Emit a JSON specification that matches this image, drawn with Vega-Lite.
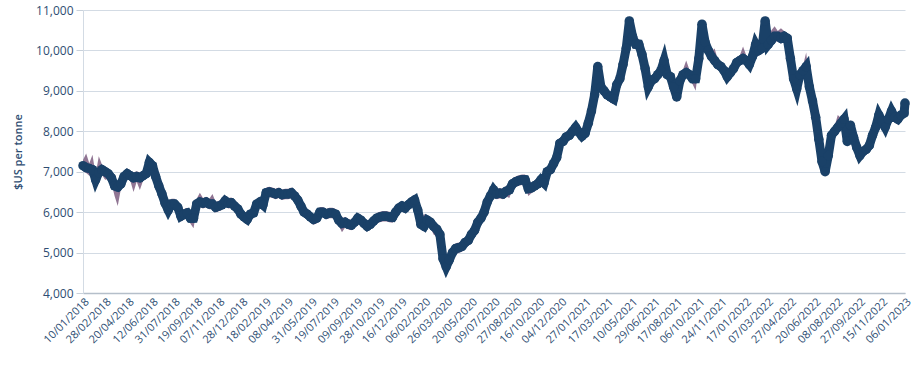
{
  "$schema": "https://vega.github.io/schema/vega-lite/v6.json",
  "width": 822,
  "height": 283,
  "autosize": {"type": "none"},
  "padding": {"left": 83, "top": 10, "right": 11, "bottom": 73},
  "background": "white",
  "config": {
    "view": {"stroke": null},
    "font": "Open Sans"
  },
  "data": {
    "values": [
      {"d":"2018-01-10","v":7150,"h":7290,"l":7020},
      {"d":"2018-01-17","v":7100,"h":7450,"l":6970},
      {"d":"2018-01-24","v":7080,"h":7210,"l":6900},
      {"d":"2018-01-31","v":7050,"h":7420,"l":6920},
      {"d":"2018-02-07","v":6800,"h":6930,"l":6670},
      {"d":"2018-02-14","v":6980,"h":7380,"l":6850},
      {"d":"2018-02-21","v":7050,"h":7180,"l":6920},
      {"d":"2018-02-28","v":7000,"h":7130,"l":6800},
      {"d":"2018-03-07","v":6950,"h":7080,"l":6820},
      {"d":"2018-03-14","v":6850,"h":6980,"l":6720},
      {"d":"2018-03-21","v":6650,"h":6780,"l":6400},
      {"d":"2018-03-28","v":6620,"h":6750,"l":6150},
      {"d":"2018-04-04","v":6700,"h":6830,"l":6570},
      {"d":"2018-04-11","v":6880,"h":7010,"l":6750},
      {"d":"2018-04-18","v":6950,"h":7080,"l":6820},
      {"d":"2018-04-25","v":6900,"h":7030,"l":6770},
      {"d":"2018-05-02","v":6850,"h":6980,"l":6500},
      {"d":"2018-05-09","v":6880,"h":7010,"l":6750},
      {"d":"2018-05-16","v":6850,"h":6980,"l":6550},
      {"d":"2018-05-23","v":6900,"h":7030,"l":6770},
      {"d":"2018-05-30","v":6950,"h":7250,"l":6820},
      {"d":"2018-06-06","v":7230,"h":7360,"l":7100},
      {"d":"2018-06-13","v":7150,"h":7280,"l":7020},
      {"d":"2018-06-20","v":6880,"h":7010,"l":6750},
      {"d":"2018-06-27","v":6650,"h":6780,"l":6520},
      {"d":"2018-07-04","v":6450,"h":6580,"l":6320},
      {"d":"2018-07-11","v":6220,"h":6350,"l":6090},
      {"d":"2018-07-18","v":6050,"h":6180,"l":5920},
      {"d":"2018-07-25","v":6200,"h":6330,"l":6070},
      {"d":"2018-08-01","v":6200,"h":6330,"l":6070},
      {"d":"2018-08-08","v":6120,"h":6250,"l":5990},
      {"d":"2018-08-15","v":5900,"h":6030,"l":5770},
      {"d":"2018-08-22","v":5950,"h":6080,"l":5820},
      {"d":"2018-08-29","v":5980,"h":6110,"l":5850},
      {"d":"2018-09-05","v":5850,"h":5980,"l":5720},
      {"d":"2018-09-12","v":5850,"h":5980,"l":5600},
      {"d":"2018-09-19","v":6200,"h":6330,"l":6070},
      {"d":"2018-09-26","v":6250,"h":6480,"l":6120},
      {"d":"2018-10-03","v":6220,"h":6350,"l":6090},
      {"d":"2018-10-10","v":6250,"h":6380,"l":6120},
      {"d":"2018-10-17","v":6200,"h":6330,"l":6070},
      {"d":"2018-10-24","v":6200,"h":6450,"l":6070},
      {"d":"2018-10-31","v":6120,"h":6250,"l":5990},
      {"d":"2018-11-07","v":6150,"h":6280,"l":6020},
      {"d":"2018-11-14","v":6180,"h":6310,"l":6050},
      {"d":"2018-11-21","v":6280,"h":6410,"l":6150},
      {"d":"2018-11-28","v":6220,"h":6350,"l":6090},
      {"d":"2018-12-05","v":6230,"h":6360,"l":6100},
      {"d":"2018-12-12","v":6150,"h":6280,"l":6020},
      {"d":"2018-12-19","v":6080,"h":6210,"l":5950},
      {"d":"2018-12-26","v":5950,"h":6080,"l":5820},
      {"d":"2019-01-02","v":5880,"h":6010,"l":5750},
      {"d":"2019-01-09","v":5820,"h":5950,"l":5690},
      {"d":"2019-01-16","v":5950,"h":6080,"l":5820},
      {"d":"2019-01-23","v":5980,"h":6110,"l":5850},
      {"d":"2019-01-30","v":6200,"h":6330,"l":6070},
      {"d":"2019-02-06","v":6250,"h":6380,"l":6120},
      {"d":"2019-02-13","v":6180,"h":6310,"l":6050},
      {"d":"2019-02-20","v":6480,"h":6610,"l":6350},
      {"d":"2019-02-27","v":6500,"h":6630,"l":6370},
      {"d":"2019-03-06","v":6480,"h":6610,"l":6350},
      {"d":"2019-03-13","v":6450,"h":6580,"l":6320},
      {"d":"2019-03-20","v":6480,"h":6610,"l":6350},
      {"d":"2019-03-27","v":6430,"h":6560,"l":6300},
      {"d":"2019-04-03","v":6450,"h":6580,"l":6320},
      {"d":"2019-04-10","v":6450,"h":6580,"l":6320},
      {"d":"2019-04-17","v":6480,"h":6610,"l":6350},
      {"d":"2019-04-24","v":6400,"h":6530,"l":6270},
      {"d":"2019-05-01","v":6300,"h":6430,"l":6170},
      {"d":"2019-05-08","v":6150,"h":6280,"l":6020},
      {"d":"2019-05-15","v":6000,"h":6130,"l":5870},
      {"d":"2019-05-22","v":5950,"h":6080,"l":5820},
      {"d":"2019-05-29","v":5880,"h":6010,"l":5750},
      {"d":"2019-06-05","v":5820,"h":5950,"l":5690},
      {"d":"2019-06-12","v":5850,"h":5980,"l":5720},
      {"d":"2019-06-19","v":6000,"h":6130,"l":5870},
      {"d":"2019-06-26","v":6000,"h":6130,"l":5870},
      {"d":"2019-07-03","v":5950,"h":6080,"l":5820},
      {"d":"2019-07-10","v":5980,"h":6110,"l":5850},
      {"d":"2019-07-17","v":5980,"h":6110,"l":5850},
      {"d":"2019-07-24","v":5950,"h":6080,"l":5820},
      {"d":"2019-07-31","v":5800,"h":5930,"l":5670},
      {"d":"2019-08-07","v":5720,"h":5850,"l":5500},
      {"d":"2019-08-14","v":5750,"h":5880,"l":5620},
      {"d":"2019-08-21","v":5700,"h":5830,"l":5570},
      {"d":"2019-08-28","v":5680,"h":5810,"l":5550},
      {"d":"2019-09-04","v":5750,"h":5880,"l":5620},
      {"d":"2019-09-11","v":5850,"h":5980,"l":5720},
      {"d":"2019-09-18","v":5800,"h":5930,"l":5670},
      {"d":"2019-09-25","v":5720,"h":5850,"l":5590},
      {"d":"2019-10-02","v":5650,"h":5780,"l":5520},
      {"d":"2019-10-09","v":5700,"h":5830,"l":5570},
      {"d":"2019-10-16","v":5780,"h":5910,"l":5650},
      {"d":"2019-10-23","v":5850,"h":5980,"l":5720},
      {"d":"2019-10-30","v":5880,"h":6010,"l":5750},
      {"d":"2019-11-06","v":5900,"h":6030,"l":5770},
      {"d":"2019-11-13","v":5900,"h":6030,"l":5770},
      {"d":"2019-11-20","v":5880,"h":6010,"l":5750},
      {"d":"2019-11-27","v":5870,"h":6000,"l":5740},
      {"d":"2019-12-04","v":6000,"h":6130,"l":5870},
      {"d":"2019-12-11","v":6100,"h":6230,"l":5970},
      {"d":"2019-12-18","v":6150,"h":6280,"l":6020},
      {"d":"2019-12-25","v":6100,"h":6230,"l":5970},
      {"d":"2020-01-01","v":6180,"h":6310,"l":6050},
      {"d":"2020-01-08","v":6250,"h":6380,"l":6120},
      {"d":"2020-01-15","v":6300,"h":6430,"l":6170},
      {"d":"2020-01-22","v":6050,"h":6180,"l":5920},
      {"d":"2020-01-29","v":5700,"h":5830,"l":5570},
      {"d":"2020-02-05","v":5650,"h":5950,"l":5520},
      {"d":"2020-02-12","v":5800,"h":5930,"l":5670},
      {"d":"2020-02-19","v":5750,"h":5880,"l":5620},
      {"d":"2020-02-26","v":5650,"h":5780,"l":5450},
      {"d":"2020-03-04","v":5580,"h":5710,"l":5400},
      {"d":"2020-03-11","v":5450,"h":5580,"l":5320},
      {"d":"2020-03-18","v":4850,"h":4980,"l":4720},
      {"d":"2020-03-25","v":4650,"h":4780,"l":4520},
      {"d":"2020-04-01","v":4820,"h":4950,"l":4690},
      {"d":"2020-04-08","v":5000,"h":5130,"l":4870},
      {"d":"2020-04-15","v":5100,"h":5230,"l":4970},
      {"d":"2020-04-22","v":5120,"h":5250,"l":4990},
      {"d":"2020-04-29","v":5150,"h":5280,"l":5020},
      {"d":"2020-05-06","v":5250,"h":5380,"l":5120},
      {"d":"2020-05-13","v":5300,"h":5430,"l":5170},
      {"d":"2020-05-20","v":5450,"h":5580,"l":5320},
      {"d":"2020-05-27","v":5550,"h":5680,"l":5420},
      {"d":"2020-06-03","v":5750,"h":5880,"l":5620},
      {"d":"2020-06-10","v":5850,"h":5980,"l":5720},
      {"d":"2020-06-17","v":6000,"h":6130,"l":5870},
      {"d":"2020-06-24","v":6250,"h":6380,"l":6120},
      {"d":"2020-07-01","v":6400,"h":6530,"l":6270},
      {"d":"2020-07-08","v":6550,"h":6680,"l":6420},
      {"d":"2020-07-15","v":6450,"h":6580,"l":6320},
      {"d":"2020-07-22","v":6470,"h":6600,"l":6340},
      {"d":"2020-07-29","v":6450,"h":6580,"l":6320},
      {"d":"2020-08-05","v":6520,"h":6650,"l":6390},
      {"d":"2020-08-12","v":6550,"h":6680,"l":6350},
      {"d":"2020-08-19","v":6700,"h":6830,"l":6570},
      {"d":"2020-08-26","v":6750,"h":6880,"l":6620},
      {"d":"2020-09-02","v":6780,"h":6910,"l":6650},
      {"d":"2020-09-09","v":6800,"h":6930,"l":6670},
      {"d":"2020-09-16","v":6800,"h":6930,"l":6670},
      {"d":"2020-09-23","v":6580,"h":6710,"l":6400},
      {"d":"2020-09-30","v":6600,"h":6730,"l":6470},
      {"d":"2020-10-07","v":6650,"h":6780,"l":6520},
      {"d":"2020-10-14","v":6700,"h":6830,"l":6570},
      {"d":"2020-10-21","v":6800,"h":6930,"l":6670},
      {"d":"2020-10-28","v":6720,"h":6850,"l":6590},
      {"d":"2020-11-04","v":7000,"h":7130,"l":6870},
      {"d":"2020-11-11","v":7050,"h":7180,"l":6920},
      {"d":"2020-11-18","v":7200,"h":7330,"l":7070},
      {"d":"2020-11-25","v":7350,"h":7480,"l":7220},
      {"d":"2020-12-02","v":7700,"h":7830,"l":7570},
      {"d":"2020-12-09","v":7750,"h":7880,"l":7620},
      {"d":"2020-12-16","v":7860,"h":7990,"l":7730},
      {"d":"2020-12-23","v":7900,"h":8030,"l":7770},
      {"d":"2020-12-30","v":8000,"h":8130,"l":7870},
      {"d":"2021-01-06","v":8100,"h":8230,"l":7970},
      {"d":"2021-01-13","v":7980,"h":8110,"l":7850},
      {"d":"2021-01-20","v":7880,"h":8010,"l":7750},
      {"d":"2021-01-27","v":7950,"h":8080,"l":7820},
      {"d":"2021-02-03","v":8200,"h":8330,"l":8070},
      {"d":"2021-02-10","v":8500,"h":8630,"l":8370},
      {"d":"2021-02-17","v":8900,"h":9030,"l":8770},
      {"d":"2021-02-24","v":9600,"h":9730,"l":9470},
      {"d":"2021-03-03","v":9100,"h":9230,"l":8970},
      {"d":"2021-03-10","v":9000,"h":9130,"l":8870},
      {"d":"2021-03-17","v":8900,"h":9030,"l":8770},
      {"d":"2021-03-24","v":8850,"h":8980,"l":8720},
      {"d":"2021-03-31","v":8800,"h":8930,"l":8670},
      {"d":"2021-04-07","v":9150,"h":9280,"l":9020},
      {"d":"2021-04-14","v":9300,"h":9430,"l":9170},
      {"d":"2021-04-21","v":9650,"h":9780,"l":9520},
      {"d":"2021-04-28","v":10050,"h":10180,"l":9920},
      {"d":"2021-05-05","v":10730,"h":10860,"l":10600},
      {"d":"2021-05-12","v":10350,"h":10480,"l":10220},
      {"d":"2021-05-19","v":10150,"h":10280,"l":10020},
      {"d":"2021-05-26","v":10150,"h":10280,"l":10020},
      {"d":"2021-06-02","v":9900,"h":10030,"l":9770},
      {"d":"2021-06-09","v":9550,"h":9680,"l":9420},
      {"d":"2021-06-16","v":9100,"h":9230,"l":8970},
      {"d":"2021-06-23","v":9250,"h":9380,"l":9120},
      {"d":"2021-06-30","v":9300,"h":9430,"l":9170},
      {"d":"2021-07-07","v":9400,"h":9530,"l":9270},
      {"d":"2021-07-14","v":9500,"h":9800,"l":9370},
      {"d":"2021-07-21","v":9750,"h":9880,"l":9620},
      {"d":"2021-07-28","v":9400,"h":9530,"l":9270},
      {"d":"2021-08-04","v":9350,"h":9480,"l":9220},
      {"d":"2021-08-11","v":9100,"h":9230,"l":8970},
      {"d":"2021-08-18","v":8850,"h":8980,"l":8720},
      {"d":"2021-08-25","v":9250,"h":9380,"l":9120},
      {"d":"2021-09-01","v":9400,"h":9530,"l":9270},
      {"d":"2021-09-08","v":9450,"h":9750,"l":9320},
      {"d":"2021-09-15","v":9400,"h":9530,"l":9270},
      {"d":"2021-09-22","v":9300,"h":9430,"l":9170},
      {"d":"2021-09-29","v":9300,"h":9430,"l":9000},
      {"d":"2021-10-06","v":9800,"h":9930,"l":9670},
      {"d":"2021-10-13","v":10650,"h":10780,"l":10520},
      {"d":"2021-10-20","v":10200,"h":10330,"l":10070},
      {"d":"2021-10-27","v":10000,"h":10130,"l":9870},
      {"d":"2021-11-03","v":9850,"h":9980,"l":9720},
      {"d":"2021-11-10","v":9750,"h":10050,"l":9620},
      {"d":"2021-11-17","v":9650,"h":9780,"l":9520},
      {"d":"2021-11-24","v":9600,"h":9730,"l":9470},
      {"d":"2021-12-01","v":9500,"h":9630,"l":9370},
      {"d":"2021-12-08","v":9350,"h":9480,"l":9220},
      {"d":"2021-12-15","v":9450,"h":9580,"l":9320},
      {"d":"2021-12-22","v":9550,"h":9680,"l":9420},
      {"d":"2021-12-29","v":9700,"h":9830,"l":9570},
      {"d":"2022-01-05","v":9750,"h":9880,"l":9620},
      {"d":"2022-01-12","v":9800,"h":10100,"l":9670},
      {"d":"2022-01-19","v":9750,"h":9880,"l":9620},
      {"d":"2022-01-26","v":9650,"h":9780,"l":9520},
      {"d":"2022-02-02","v":9850,"h":9980,"l":9720},
      {"d":"2022-02-09","v":10150,"h":10280,"l":10020},
      {"d":"2022-02-16","v":10000,"h":10130,"l":9870},
      {"d":"2022-02-23","v":10050,"h":10180,"l":9920},
      {"d":"2022-03-02","v":10730,"h":10860,"l":10600},
      {"d":"2022-03-09","v":10150,"h":10280,"l":10020},
      {"d":"2022-03-16","v":10250,"h":10500,"l":10120},
      {"d":"2022-03-23","v":10350,"h":10600,"l":10220},
      {"d":"2022-03-30","v":10350,"h":10480,"l":10220},
      {"d":"2022-04-06","v":10300,"h":10550,"l":10170},
      {"d":"2022-04-13","v":10350,"h":10480,"l":10220},
      {"d":"2022-04-20","v":10300,"h":10430,"l":10100},
      {"d":"2022-04-27","v":9800,"h":9930,"l":9670},
      {"d":"2022-05-04","v":9300,"h":9430,"l":9170},
      {"d":"2022-05-11","v":9050,"h":9180,"l":8920},
      {"d":"2022-05-18","v":9400,"h":9530,"l":9270},
      {"d":"2022-05-25","v":9500,"h":9630,"l":9370},
      {"d":"2022-06-01","v":9600,"h":9950,"l":9470},
      {"d":"2022-06-08","v":9100,"h":9230,"l":8970},
      {"d":"2022-06-15","v":8750,"h":8880,"l":8620},
      {"d":"2022-06-22","v":8350,"h":8480,"l":8220},
      {"d":"2022-06-29","v":7800,"h":7930,"l":7670},
      {"d":"2022-07-06","v":7250,"h":7380,"l":7120},
      {"d":"2022-07-13","v":7000,"h":7130,"l":6900},
      {"d":"2022-07-20","v":7400,"h":7530,"l":7270},
      {"d":"2022-07-27","v":7900,"h":8030,"l":7770},
      {"d":"2022-08-03","v":8000,"h":8130,"l":7870},
      {"d":"2022-08-10","v":8100,"h":8400,"l":7970},
      {"d":"2022-08-17","v":8200,"h":8330,"l":8070},
      {"d":"2022-08-24","v":8300,"h":8430,"l":8170},
      {"d":"2022-08-31","v":7750,"h":7880,"l":7620},
      {"d":"2022-09-07","v":8150,"h":8280,"l":8020},
      {"d":"2022-09-14","v":7850,"h":7980,"l":7720},
      {"d":"2022-09-21","v":7600,"h":7730,"l":7470},
      {"d":"2022-09-28","v":7400,"h":7530,"l":7270},
      {"d":"2022-10-05","v":7500,"h":7630,"l":7370},
      {"d":"2022-10-12","v":7550,"h":7680,"l":7420},
      {"d":"2022-10-19","v":7650,"h":7780,"l":7520},
      {"d":"2022-10-26","v":7900,"h":8030,"l":7770},
      {"d":"2022-11-02","v":8100,"h":8230,"l":7970},
      {"d":"2022-11-09","v":8400,"h":8530,"l":8270},
      {"d":"2022-11-16","v":8250,"h":8380,"l":8120},
      {"d":"2022-11-23","v":8100,"h":8230,"l":7970},
      {"d":"2022-11-30","v":8300,"h":8430,"l":8170},
      {"d":"2022-12-07","v":8500,"h":8630,"l":8370},
      {"d":"2022-12-14","v":8350,"h":8480,"l":8220},
      {"d":"2022-12-21","v":8300,"h":8430,"l":8170},
      {"d":"2022-12-28","v":8400,"h":8530,"l":8270},
      {"d":"2023-01-04","v":8450,"h":8580,"l":8320},
      {"d":"2023-01-06","v":8700,"h":8800,"l":8580}
    ],
    "format": {"parse": {"d": "date:'%Y-%m-%d'"}}
  },
  "encoding": {
    "x": {
      "field": "d",
      "type": "temporal",
      "scale": {
        "domain": [{"year": 2018, "month": 1, "date": 10}, {"year": 2023, "month": 1, "date": 6}],
        "nice": false
      },
      "axis": {
        "title": null,
        "values": [
          {"year":2018,"month":1,"date":10},{"year":2018,"month":2,"date":28},{"year":2018,"month":4,"date":20},
          {"year":2018,"month":6,"date":12},{"year":2018,"month":7,"date":31},{"year":2018,"month":9,"date":19},
          {"year":2018,"month":11,"date":7},{"year":2018,"month":12,"date":28},{"year":2019,"month":2,"date":18},
          {"year":2019,"month":4,"date":8},{"year":2019,"month":5,"date":31},{"year":2019,"month":7,"date":19},
          {"year":2019,"month":9,"date":9},{"year":2019,"month":10,"date":28},{"year":2019,"month":12,"date":16},
          {"year":2020,"month":2,"date":6},{"year":2020,"month":3,"date":26},{"year":2020,"month":5,"date":20},
          {"year":2020,"month":7,"date":9},{"year":2020,"month":8,"date":27},{"year":2020,"month":10,"date":16},
          {"year":2020,"month":12,"date":4},{"year":2021,"month":1,"date":27},{"year":2021,"month":3,"date":17},
          {"year":2021,"month":5,"date":10},{"year":2021,"month":6,"date":29},{"year":2021,"month":8,"date":17},
          {"year":2021,"month":10,"date":6},{"year":2021,"month":11,"date":24},{"year":2022,"month":1,"date":17},
          {"year":2022,"month":3,"date":7},{"year":2022,"month":4,"date":27},{"year":2022,"month":6,"date":20},
          {"year":2022,"month":8,"date":8},{"year":2022,"month":9,"date":27},{"year":2022,"month":11,"date":15},
          {"year":2023,"month":1,"date":6}
        ],
        "format": "%d/%m/%Y",
        "labelAngle": -45,
        "labelAlign": "right",
        "labelBaseline": "middle",
        "labelPadding": 7,
        "labelOffset": 4,
        "labelFontSize": 11,
        "labelColor": "#2e4d72",
        "labelFont": "Open Sans",
        "labelOverlap": false,
        "labelBound": false,
        "labelFlush": false,
        "ticks": false,
        "grid": false,
        "domainColor": "#b5bfca",
        "domainWidth": 1.5
      }
    }
  },
  "layer": [
    {
      "mark": {"type": "area", "color": "#7d5d80", "opacity": 0.85},
      "encoding": {
        "y": {"field": "l", "type": "quantitative"},
        "y2": {"field": "h"}
      }
    },
    {
      "mark": {"type": "line", "color": "#1a4168", "strokeWidth": 9},
      "encoding": {
        "y": {
          "field": "v",
          "type": "quantitative",
          "scale": {"domain": [4000, 11000], "nice": false, "zero": false},
          "axis": {
            "title": "$US per tonne",
            "titleFont": "Open Sans",
            "titleFontSize": 11,
            "titleFontWeight": 600,
            "titleColor": "#2e4d72",
            "titlePadding": 12,
            "values": [4000, 5000, 6000, 7000, 8000, 9000, 10000, 11000],
            "format": ",.0f",
            "labelFontSize": 12,
            "labelColor": "#2e4d72",
            "labelFont": "Open Sans",
            "labelPadding": 3,
            "tickSize": 7,
            "tickColor": "#c8d1db",
            "domainColor": "#d3dbe4",
            "gridColor": "#d3dbe4",
            "grid": true
          }
        }
      }
    },
    {
      "mark": {"type": "point", "filled": true, "color": "#1a4168", "size": 90, "opacity": 1},
      "encoding": {
        "y": {"field": "v", "type": "quantitative"}
      }
    }
  ]
}
